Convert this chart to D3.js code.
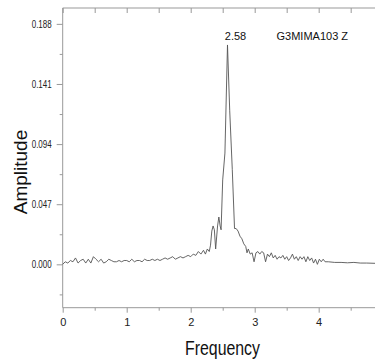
<!DOCTYPE html>
<html>
<head>
<meta charset="utf-8">
<script src="https://cdn.jsdelivr.net/npm/d3@7"></script>
<style>
  body { margin: 0; background: #fff; }
  svg { display: block; font-family: "Liberation Sans", Arial, sans-serif; }
</style>
</head>
<body>
<svg id="chart" width="375" height="363"></svg>
<script>
// spectrum
const freq = [0.00, 0.04, 0.08, 0.12, 0.16, 0.20, 0.24, 0.28, 0.32, 0.36, 0.40, 0.44, 0.48, 0.52, 0.56, 0.60,
  0.64, 0.68, 0.72, 0.76, 0.80, 0.84, 0.88, 0.92, 0.96, 1.00, 1.04, 1.08, 1.12, 1.16, 1.20, 1.24, 1.28, 1.32,
  1.36, 1.40, 1.44, 1.48, 1.52, 1.56, 1.60, 1.64, 1.68, 1.72, 1.76, 1.80, 1.84, 1.88, 1.92, 1.96, 2.00, 2.04,
  2.08, 2.12, 2.16, 2.20, 2.23, 2.26, 2.29, 2.31, 2.33, 2.35, 2.37, 2.39, 2.42, 2.44, 2.46, 2.475, 2.50, 2.535,
  2.575, 2.61, 2.65, 2.685, 2.71, 2.74, 2.77, 2.80, 2.83, 2.86, 2.88, 2.90, 2.93, 2.96, 2.99, 3.02, 3.05, 3.08,
  3.11, 3.14, 3.17, 3.20, 3.23, 3.26, 3.29, 3.32, 3.35, 3.38, 3.41, 3.44, 3.47, 3.50, 3.53, 3.56, 3.59, 3.62,
  3.65, 3.68, 3.71, 3.74, 3.77, 3.80, 3.83, 3.86, 3.89, 3.92, 3.95, 3.98, 4.01, 4.04, 4.07, 4.10, 4.15, 4.25,
  4.35, 4.45, 4.55, 4.65, 4.75, 4.88];
const amp = [0.000, 0.002, 0.001, 0.003, 0.002, 0.005, 0.001, 0.003, 0.004, 0.001, 0.004, 0.001, 0.006, 0.004, 0.002, 0.004,
  0.001, 0.002, 0.004, 0.003, 0.002, 0.002, 0.003, 0.002, 0.003, 0.003, 0.002, 0.004, 0.002, 0.003, 0.003, 0.002, 0.004, 0.003,
  0.003, 0.004, 0.003, 0.004, 0.003, 0.004, 0.005, 0.004, 0.005, 0.006, 0.004, 0.005, 0.006, 0.005, 0.006, 0.007, 0.006, 0.008,
  0.007, 0.010, 0.008, 0.011, 0.008, 0.012, 0.010, 0.015, 0.026, 0.030, 0.027, 0.012, 0.030, 0.037, 0.030, 0.027, 0.066, 0.087,
  0.1715, 0.120, 0.074, 0.028, 0.028, 0.026, 0.022, 0.020, 0.016, 0.014, 0.009, 0.012, 0.008, 0.009, 0.002, 0.009, 0.010, 0.008,
  0.010, 0.009, 0.002, 0.008, 0.006, 0.009, 0.005, 0.007, 0.004, 0.006, 0.005, 0.007, 0.004, 0.006, 0.003, 0.005, 0.008, 0.004,
  0.006, 0.003, 0.006, 0.004, 0.006, 0.002, 0.006, 0.003, 0.005, 0.001, 0.004, 0.000, 0.004, 0.002, 0.004, 0.002, 0.002, 0.0015,
  0.0015, 0.0012, 0.0015, 0.001, 0.001, 0.0008];

const yTicks = [0, 0.047, 0.094, 0.141, 0.188];
const xTicks = [0, 1, 2, 3, 4];
const peakLabel = "2.58";
const seriesName = "G3MIMA103 Z";

const svg = d3.select("#chart");
const plotLeft = 62.7, plotRight = 375, plotTop = 8, plotBottom = 307.7;
const axisColor = "#999";

const x = d3.scaleLinear().domain([0, 4.88]).range([plotLeft, plotRight]);
const y = d3.scaleLinear().domain([-0.0339, 0.2004]).range([plotBottom, plotTop]);

const yMinor = [yTicks[0] - 0.0235].concat(yTicks.map(d => d + 0.0235));
const xMinor = d3.range(0.5, 4.88, 1);
const topTicks = d3.range(0, 4.88, 0.5);

// frame lines
svg.append("line").attr("x1", plotLeft).attr("x2", plotLeft).attr("y1", plotTop).attr("y2", plotBottom)
  .attr("stroke", axisColor);
svg.append("line").attr("x1", plotLeft).attr("x2", plotRight).attr("y1", plotBottom).attr("y2", plotBottom)
  .attr("stroke", axisColor);
svg.append("line").attr("x1", plotLeft).attr("x2", plotRight).attr("y1", plotTop).attr("y2", plotTop)
  .attr("stroke", axisColor);

// left axis
const yAxis = svg.append("g").attr("transform", `translate(${plotLeft},0)`)
  .call(d3.axisLeft(y).tickValues(yTicks).tickSize(6).tickPadding(5).tickFormat(d3.format(".3f")));
yAxis.select(".domain").remove();
yAxis.selectAll("line").attr("stroke", axisColor);
yAxis.selectAll("text").attr("font-size", 10).attr("fill", "#222")
  .attr("textLength", 20).attr("lengthAdjust", "spacingAndGlyphs");

svg.append("g").attr("transform", `translate(${plotLeft},0)`)
  .call(d3.axisLeft(y).tickValues(yMinor).tickSize(3).tickFormat(""))
  .call(g => g.select(".domain").remove())
  .selectAll("line").attr("stroke", axisColor);

// bottom axis
const xAxis = svg.append("g").attr("transform", `translate(0,${plotBottom})`)
  .call(d3.axisBottom(x).tickValues(xTicks).tickSize(5).tickPadding(6).tickFormat(d3.format("d")));
xAxis.select(".domain").remove();
xAxis.selectAll("line").attr("stroke", axisColor);
xAxis.selectAll("text").attr("font-size", 11).attr("fill", "#222");

svg.append("g").attr("transform", `translate(0,${plotBottom})`)
  .call(d3.axisBottom(x).tickValues(xMinor).tickSize(3).tickFormat(""))
  .call(g => g.select(".domain").remove())
  .selectAll("line").attr("stroke", axisColor);

// top ticks, pointing in
svg.append("g").attr("transform", `translate(0,${plotTop})`)
  .call(d3.axisBottom(x).tickValues(topTicks).tickSize(5).tickFormat(""))
  .call(g => g.select(".domain").remove())
  .selectAll("line").attr("stroke", axisColor);

// spectrum line
const pts = freq.map((f, i) => [f, amp[i]]);
svg.append("path")
  .datum(pts)
  .attr("fill", "none")
  .attr("stroke", "#555")
  .attr("stroke-width", 0.9)
  .attr("d", d3.line().x(d => x(d[0])).y(d => y(d[1])));

// labels
const peakIdx = amp.indexOf(d3.max(amp));
svg.append("text").attr("x", x(freq[peakIdx]) + 8).attr("y", 39.5)
  .attr("text-anchor", "middle").attr("font-size", 11).attr("fill", "#111")
  .text(peakLabel);
svg.append("text").attr("x", 276.5).attr("y", 39.5)
  .attr("font-size", 11).attr("fill", "#111")
  .text(seriesName);

svg.append("text")
  .attr("transform", "translate(27,172) rotate(-90)")
  .attr("text-anchor", "middle").attr("font-size", 19).attr("fill", "#111")
  .text("Amplitude");
svg.append("text").attr("x", 185).attr("y", 355)
  .attr("font-size", 20).attr("fill", "#111")
  .attr("textLength", 75).attr("lengthAdjust", "spacingAndGlyphs")
  .text("Frequency");
</script>
</body>
</html>
